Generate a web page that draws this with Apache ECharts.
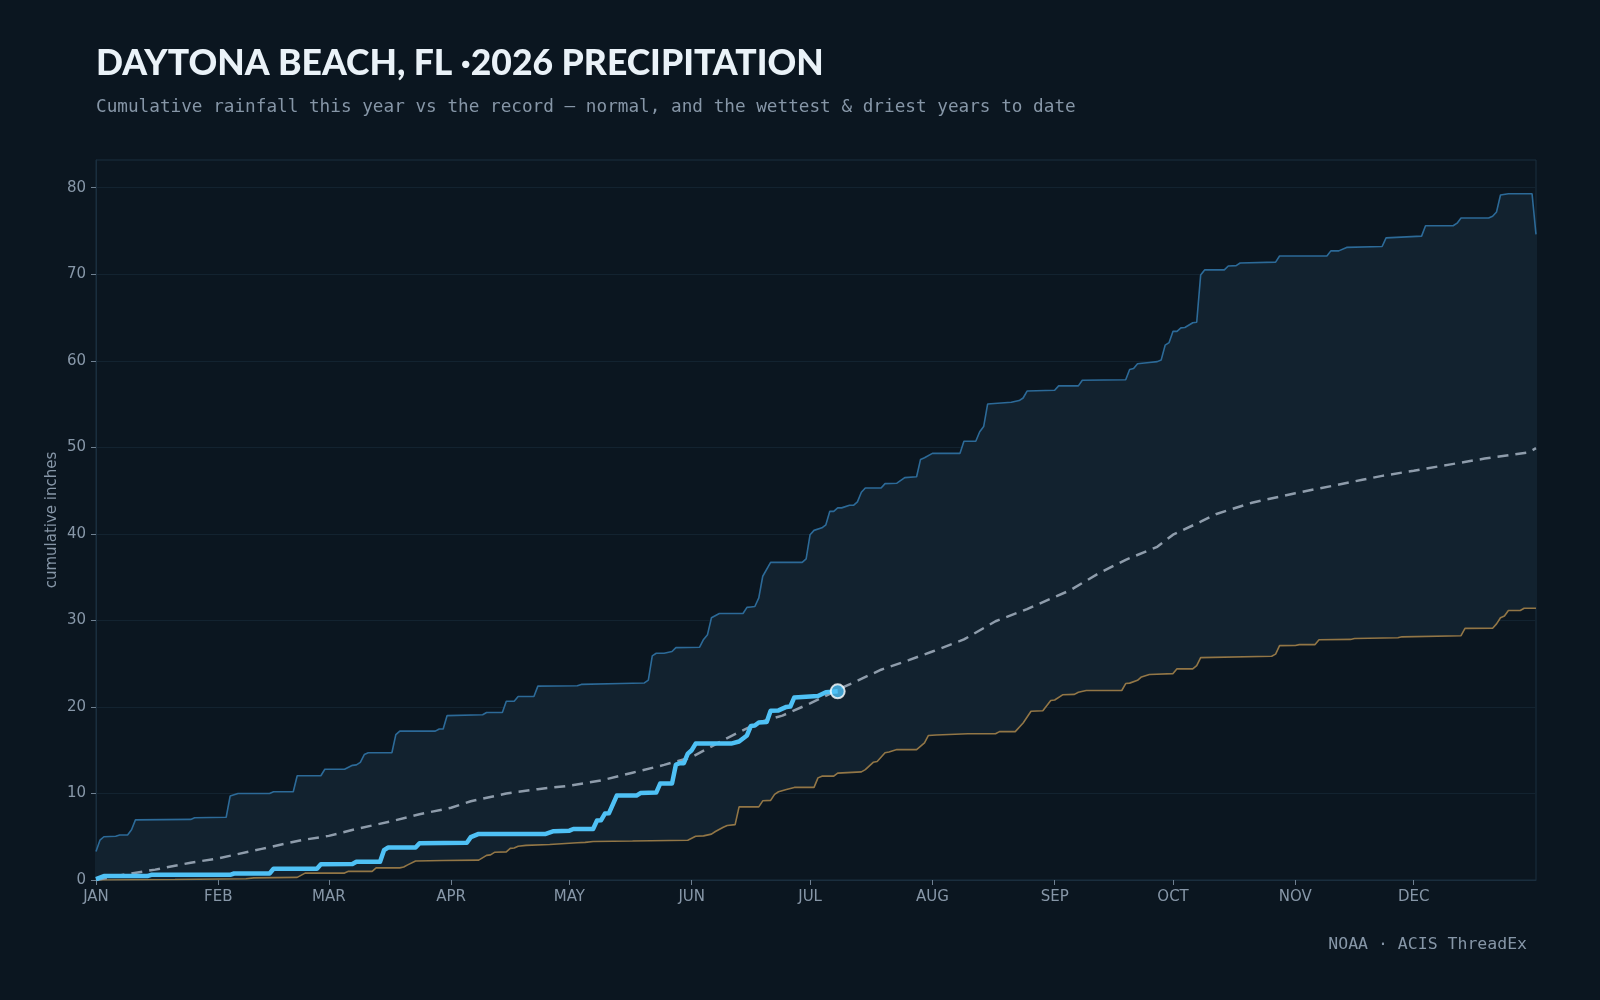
<!DOCTYPE html>
<html>
<head>
<meta charset="utf-8">
<script src="https://cdn.jsdelivr.net/npm/echarts@6/dist/echarts.min.js"></script>
<style>
  html, body { margin: 0; padding: 0; background: #0b1620; }
  #chart { width: 1600px; height: 1000px; }
</style>
</head>
<body>
<div id="chart"></div>
<script>
// ---- data (day of year, cumulative inches) ----
const MONTHS = ['JAN','FEB','MAR','APR','MAY','JUN','JUL','AUG','SEP','OCT','NOV','DEC'];
const MONTH_START = [0,31,59,90,120,151,181,212,243,273,304,334];
const Y_TICKS = [0,10,20,30,40,50,60,70,80];

const WETTEST = [[0,3.3],[1,4.6],[2,5.0],[5,5.05],[6,5.2],[8,5.2],[9,5.8],[10,6.95],[24,7.0],[25,7.2],[33,7.25],[34,9.7],[36,10.0],[44,10.0],[45,10.2],[50,10.2],[51,12.05],[57,12.05],[58,12.8],[63,12.8],[65,13.25],[66,13.3],[67,13.6],[68,14.5],[69,14.7],[75,14.7],[76,16.8],[77,17.2],[86,17.2],[87,17.45],[88,17.45],[89,19.0],[98,19.1],[99,19.35],[103,19.35],[104,20.65],[106,20.65],[107,21.2],[111,21.2],[112,22.4],[122,22.45],[123,22.6],[133,22.7],[139,22.77],[140,23.1],[141,25.9],[142,26.2],[144,26.2],[146,26.4],[147,26.85],[153,26.9],[154,27.8],[155,28.35],[156,30.3],[158,30.8],[164,30.8],[165,31.5],[166,31.55],[167,31.6],[168,32.6],[169,35.1],[171,36.7],[179,36.7],[180,37.1],[181,39.9],[182,40.4],[184,40.7],[185,41.05],[186,42.6],[187,42.6],[188,43.0],[189,43.0],[191,43.3],[192,43.3],[193,43.7],[194,44.8],[195,45.3],[199,45.3],[200,45.8],[203,45.85],[205,46.5],[208,46.6],[209,48.6],[210,48.8],[212,49.3],[219,49.3],[220,50.7],[223,50.7],[224,51.8],[225,52.4],[226,55.0],[232,55.2],[234,55.4],[235,55.7],[236,56.5],[243,56.6],[244,57.1],[249,57.1],[250,57.75],[261,57.8],[262,59.0],[263,59.1],[264,59.65],[267,59.8],[269,59.9],[270,60.1],[271,61.8],[272,62.1],[273,63.4],[274,63.4],[275,63.8],[276,63.85],[278,64.4],[279,64.45],[280,69.9],[281,70.5],[286,70.5],[287,70.95],[289,71.0],[290,71.3],[299,71.4],[300,72.1],[312,72.1],[313,72.7],[315,72.7],[317,73.1],[326,73.2],[327,74.2],[336,74.4],[337,75.6],[344,75.6],[345,75.9],[346,76.5],[353,76.5],[354,76.7],[355,77.2],[356,79.15],[358,79.3],[364,79.3],[365,74.6]];

const DRIEST = [[0,0],[20,0.05],[38,0.15],[40,0.25],[51,0.3],[53,0.8],[63,0.8],[64,1.0],[70,1.0],[71,1.4],[77,1.4],[78,1.5],[79,1.75],[81,2.2],[88,2.25],[97,2.3],[99,2.85],[100,2.9],[101,3.2],[104,3.25],[105,3.65],[106,3.7],[107,3.9],[109,4.0],[115,4.1],[122,4.3],[124,4.35],[126,4.45],[136,4.5],[150,4.6],[152,5.05],[154,5.1],[156,5.3],[157,5.6],[159,6.1],[160,6.3],[162,6.4],[163,8.45],[168,8.45],[169,9.15],[171,9.2],[172,9.9],[173,10.2],[175,10.45],[177,10.7],[182,10.7],[183,11.8],[184,12.0],[187,12.0],[188,12.35],[194,12.5],[195,12.75],[197,13.6],[198,13.7],[200,14.7],[201,14.8],[203,15.07],[208,15.07],[210,15.85],[211,16.7],[213,16.75],[221,16.9],[228,16.9],[229,17.15],[233,17.15],[235,18.15],[237,19.5],[240,19.55],[242,20.75],[243,20.8],[245,21.4],[248,21.45],[249,21.7],[251,21.9],[260,21.9],[261,22.7],[262,22.75],[264,23.07],[265,23.46],[267,23.75],[273,23.85],[274,24.4],[278,24.4],[279,24.77],[280,25.7],[298,25.85],[299,26.1],[300,27.08],[304,27.1],[305,27.2],[309,27.2],[310,27.77],[318,27.8],[319,27.9],[330,28.0],[331,28.1],[346,28.23],[347,29.08],[354,29.1],[355,29.6],[356,30.3],[357,30.5],[358,31.15],[361,31.15],[362,31.4],[365,31.4]];

const NORMAL = [[0,0],[7,0.6],[15,1.2],[24,2.0],[31,2.5],[42,3.6],[52,4.6],[59,5.1],[66,5.9],[75,6.8],[82,7.6],[90,8.35],[95,9.1],[104,10.0],[112,10.5],[120,10.9],[128,11.5],[136,12.4],[144,13.3],[151,14.2],[160,16.4],[168,18.2],[174,19.0],[181,20.4],[190,22.4],[199,24.3],[206,25.4],[212,26.4],[220,27.8],[228,29.9],[236,31.3],[243,32.7],[247,33.5],[254,35.4],[261,37.0],[269,38.5],[273,39.9],[280,41.4],[284,42.3],[293,43.6],[304,44.7],[314,45.6],[321,46.25],[326,46.7],[334,47.3],[343,48.0],[352,48.7],[363,49.4],[365,49.9]];

const CURRENT = [[0,0.1],[2,0.45],[13,0.45],[14,0.6],[34,0.6],[35,0.75],[44,0.75],[45,1.3],[56,1.3],[57,1.83],[65,1.85],[66,2.1],[72,2.1],[73,3.44],[74,3.75],[81,3.75],[82,4.25],[94,4.3],[95,4.95],[97,5.33],[114,5.33],[116,5.64],[120,5.7],[121,5.9],[126,5.9],[127,6.87],[128,6.9],[129,7.68],[130,7.7],[132,9.76],[137,9.76],[138,10.05],[142,10.1],[143,11.14],[146,11.14],[147,13.34],[148,13.5],[149,13.5],[150,14.6],[151,15.0],[152,15.76],[161,15.76],[163,16.0],[165,16.7],[166,17.8],[167,17.85],[168,18.2],[170,18.25],[171,19.57],[173,19.6],[175,20.0],[176,20.05],[177,21.1],[183,21.25],[185,21.7],[188,21.8]];

const TITLE = 'DAYTONA BEACH, FL \u00b72026 PRECIPITATION';
const SUBTITLE = 'Cumulative rainfall this year vs the record \u2014 normal, and the wettest & driest years to date';
const SOURCE = 'NOAA \u00b7 ACIS ThreadEx';
const Y_NAME = 'cumulative inches';

// ---- chart ----
const BG = '#0b1620';
const chart = echarts.init(document.getElementById('chart'), null, { renderer: 'canvas' });
const labelColor = '#8797a8';
const axisFont = 'DejaVu Sans';

chart.setOption({
  backgroundColor: BG,
  animation: false,
  title: [
    { text: TITLE, left: 96, top: 46, padding: 0,
      textStyle: { color: '#eaf2f8', fontSize: 35.5, fontWeight: 900, fontFamily: 'Lato' } },
    { text: SUBTITLE, left: 96, top: 98, padding: 0,
      textStyle: { color: '#8696a7', fontSize: 17.7, fontWeight: 'normal', fontFamily: 'DejaVu Sans Mono' } },
    { text: SOURCE, right: 73, top: 936, padding: 0,
      textStyle: { color: '#8696a7', fontSize: 16.5, fontWeight: 'normal', fontFamily: 'DejaVu Sans Mono' } }
  ],
  grid: { left: 96, right: 64, top: 160, bottom: 120, show: true,
          borderColor: '#1a2e3e', borderWidth: 1, backgroundColor: 'transparent' },
  xAxis: {
    type: 'value', min: 0, max: 365,
    axisLine: { show: true, lineStyle: { color: '#1a2e3e' } },
    axisTick: { show: true, length: 5, customValues: MONTH_START, lineStyle: { color: '#6f8091' } },
    axisLabel: { customValues: MONTH_START, margin: 10, color: labelColor, fontSize: 15, fontFamily: axisFont,
      formatter: v => MONTHS[MONTH_START.indexOf(v)] || '' },
    splitLine: { show: false }
  },
  yAxis: {
    type: 'value', min: 0, max: 83.2,
    name: Y_NAME, nameLocation: 'middle', nameGap: 36, nameRotate: 90, nameMoveOverlap: false,
    nameTextStyle: { color: labelColor, fontSize: 15, fontFamily: axisFont },
    axisLine: { show: true, lineStyle: { color: '#1a2e3e' } },
    axisTick: { show: true, length: 5, customValues: Y_TICKS, lineStyle: { color: '#6f8091' } },
    axisLabel: { customValues: Y_TICKS, margin: 10, color: labelColor, fontSize: 15, fontFamily: axisFont },
    splitLine: { show: true, lineStyle: { color: '#132330', width: 1 } }
  },
  series: [
    {
      type: 'custom', name: 'record band', z: 1, silent: true,
      data: [[0, 0]],
      renderItem: function (params, api) {
        if (params.dataIndex !== 0) return null;
        const pts = WETTEST.map(p => api.coord(p))
          .concat(DRIEST.slice().reverse().map(p => api.coord(p)));
        return { type: 'polygon', shape: { points: pts }, style: { fill: '#12222f' } };
      }
    },
    { type: 'line', name: 'wettest', data: WETTEST, z: 3, symbol: 'none',
      lineStyle: { color: '#2c6a98', width: 1.6 } },
    { type: 'line', name: 'driest', data: DRIEST, z: 3, symbol: 'none',
      lineStyle: { color: '#927646', width: 1.6 } },
    { type: 'line', name: 'normal', data: NORMAL, z: 4, symbol: 'none',
      lineStyle: { color: '#8e9cab', width: 2.5, type: [11, 7] } },
    { type: 'line', name: 'this year', data: CURRENT, z: 5, symbol: 'none',
      lineStyle: { color: '#4fc1f5', width: 4.5, join: 'round' } },
    { type: 'scatter', name: 'latest', data: [CURRENT[CURRENT.length - 1]], z: 6,
      symbol: 'circle', symbolSize: 14,
      itemStyle: { color: '#4fc1f5', borderColor: '#ffffff', borderWidth: 2 } }
  ]
});
</script>
</body>
</html>
